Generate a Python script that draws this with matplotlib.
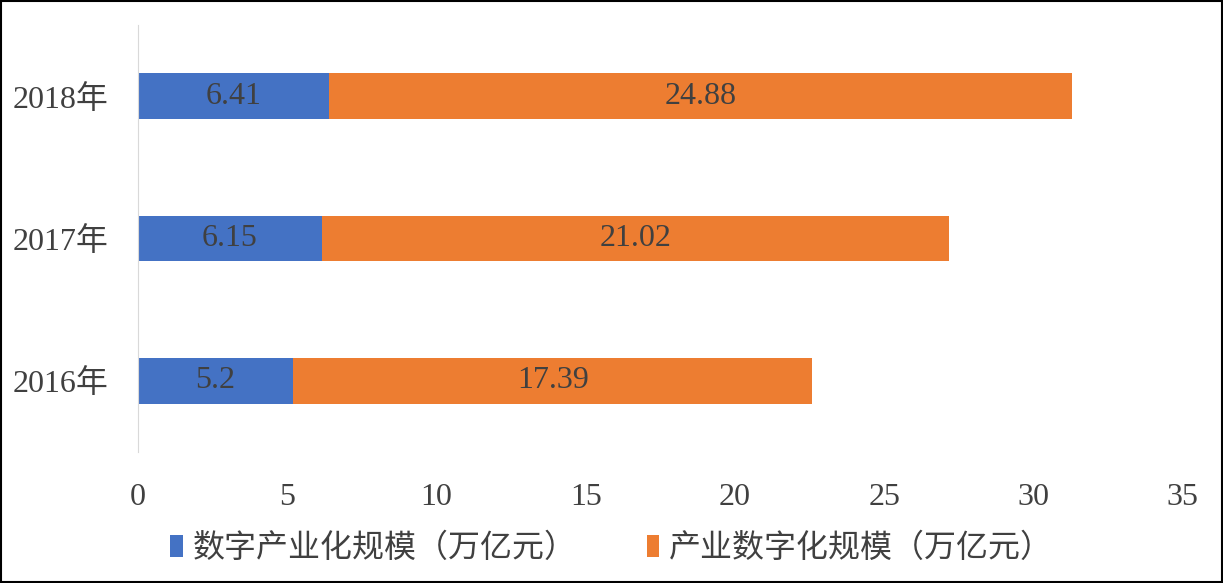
import matplotlib.pyplot as plt
from matplotlib.patches import Rectangle

plt.rcParams['font.family'] = ['Liberation Serif', 'Noto Sans CJK SC']

years = ["2016年", "2017年", "2018年"]
digital_industry = [5.2, 6.15, 6.41]
industry_digital = [17.39, 21.02, 24.88]
series_names = ["数字产业化规模（万亿元）", "产业数字化规模（万亿元）"]
colors = ["#4472C4", "#ED7D31"]
text_color = "#404040"

fig = plt.figure(figsize=(12.23, 5.83), dpi=100)
ax = fig.add_axes([0.1128, 0.2247, 0.8544, 0.7323])

y = range(len(years))
b1 = ax.barh(y, digital_industry, height=0.32, color=colors[0], label=series_names[0])
b2 = ax.barh(y, industry_digital, height=0.32, left=digital_industry, color=colors[1], label=series_names[1])

for bars, vals in ((b1, digital_industry), (b2, industry_digital)):
    for bar, v in zip(bars, vals):
        ax.text(bar.get_x() + bar.get_width() / 2, bar.get_y() + bar.get_height() / 2,
                f"{v:g}", ha="center", va="center", fontsize=23, color=text_color)

ax.set_xlim(0, 35)
ax.set_ylim(-0.5, 2.5)
ax.set_xticks(range(0, 36, 5))
ax.set_yticks(list(y))
ax.set_yticklabels(years)
ax.tick_params(length=0, labelsize=23, colors=text_color)
ax.tick_params(axis="y", pad=21)
ax.tick_params(axis="x", pad=22)
for s in ["top", "right", "bottom"]:
    ax.spines[s].set_visible(False)
ax.spines["left"].set_color("#D9D9D9")

fig.legend(loc="center", bbox_to_anchor=(0.5, 0.058), ncol=2, frameon=False,
           fontsize=23, labelcolor=text_color, handlelength=0.4, handleheight=0.7,
           handletextpad=0.3, columnspacing=2.2)

fig.patches.append(Rectangle((0.001, 0.002), 0.998, 0.996, transform=fig.transFigure,
                             fill=False, edgecolor="black", linewidth=1.5))

fig.savefig("out.png", dpi=100)
